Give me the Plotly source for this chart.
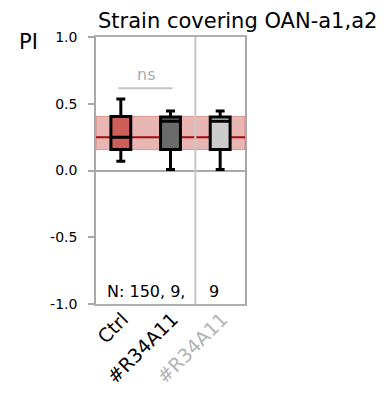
import plotly.graph_objects as go

categories = ["Ctrl", "#R34A11", "#R34A11"]
label_colors = ["#000000", "#000000", "#b4b4b4"]
fill_colors = ["#cd5f58", "#6b6b6b", "#cccccc"]
lower_whisker = [0.07, 0.007, 0.007]
q1 = [0.157, 0.157, 0.157]
median = [0.25, 0.368, 0.368]
q3 = [0.405, 0.40, 0.40]
upper_whisker = [0.535, 0.446, 0.446]
n_counts = [150, 9, 9]
y_tick_vals = [-1.0, -0.5, 0.0, 0.5, 1.0]
y_tick_text = ["-1.0", "-0.5", "0.0", "0.5", "1.0"]

FONT = "DejaVu Sans, sans-serif"
W, H = 386, 401
L, R, T, B = 96, 141, 37, 97
PW, PH = W - L - R, H - T - B


def px_x(p):
    return (p - L) / PW


def px_y(p):
    return 1 - (p - T) / PH


xs = list(range(len(categories)))

fig = go.Figure()
for i in xs:
    fig.add_trace(go.Box(
        x=[i], q1=[q1[i]], median=[median[i]], q3=[q3[i]],
        lowerfence=[lower_whisker[i]], upperfence=[upper_whisker[i]],
        fillcolor=fill_colors[i], line=dict(color="black", width=3),
        width=0.4, whiskerwidth=0.45, boxpoints=False, showlegend=False,
        hoverinfo="skip",
    ))

# control IQR band + median line
fig.add_shape(type="rect", xref="paper", x0=0, x1=1, yref="y", y0=q1[0], y1=q3[0],
              fillcolor="rgba(205,95,88,0.45)", line=dict(color="rgba(205,95,88,0.55)", width=1),
              layer="below")
fig.add_shape(type="line", xref="paper", x0=0, x1=1, yref="y", y0=median[0], y1=median[0],
              line=dict(color="#a50d0d", width=2), layer="below")
# separator between groups
fig.add_shape(type="line", xref="x", x0=1.5, x1=1.5, yref="paper", y0=0, y1=1,
              line=dict(color="#c8c8c8", width=2), layer="above")
# ns bracket
fig.add_shape(type="line", xref="x", x0=-0.05, x1=1.04, yref="y", y0=0.617, y1=0.617,
              line=dict(color="#c4c4c4", width=2))
fig.add_annotation(x=0.5, y=0.72, xref="x", yref="y", text="ns", showarrow=False,
                   xanchor="center", yanchor="middle",
                   font=dict(family=FONT, size=16, color="#ababab"))

# N labels
fig.add_annotation(x=0.5, y=-0.91, xref="x", yref="y",
                   text="N: %d, %d," % (n_counts[0], n_counts[1]), showarrow=False,
                   xanchor="center", yanchor="middle",
                   font=dict(family=FONT, size=16, color="black"))
fig.add_annotation(x=2, y=-0.91, xref="x", yref="y", xshift=-6,
                   text="%d" % n_counts[2], showarrow=False,
                   xanchor="center", yanchor="middle",
                   font=dict(family=FONT, size=16, color="black"))

# title & PI
fig.add_annotation(xref="paper", yref="paper", x=px_x(237), y=px_y(21),
                   xanchor="center", yanchor="middle",
                   text="Strain covering OAN-a1,a2", showarrow=False,
                   font=dict(family=FONT, size=21, color="black"))
fig.add_annotation(xref="paper", yref="paper", x=px_x(28), y=px_y(42),
                   xanchor="center", yanchor="middle",
                   text="PI", showarrow=False, font=dict(family=FONT, size=21, color="black"))

fig.update_layout(
    width=W, height=H,
    margin=dict(l=L, r=R, t=T, b=B),
    paper_bgcolor="white", plot_bgcolor="white",
    font=dict(family=FONT, color="black"),
)
fig.update_xaxes(
    range=[-0.5, 2.5], tickmode="array", tickvals=xs,
    ticktext=['<span style="color:%s">%s</span>' % (label_colors[i], categories[i]) for i in xs],
    tickangle=-45, tickfont=dict(family=FONT, size=19), showgrid=False, zeroline=False,
    showline=True, linecolor="#b0b0b0", linewidth=1.5, mirror=True, ticks="",
    ticklabelshift=2, ticklabelstandoff=-5, automargin=False,
)
fig.update_yaxes(
    range=[-1, 1], tickmode="array", tickvals=y_tick_vals, ticktext=y_tick_text,
    tickfont=dict(family=FONT, size=14), showgrid=False,
    zeroline=True, zerolinecolor="#a8a8a8", zerolinewidth=1.5,
    showline=True, linecolor="#a8a8a8", linewidth=1.5, mirror=True,
    ticks="outside", ticklen=6, tickcolor="#a8a8a8", tickwidth=1.5,
    ticklabelstandoff=8, automargin=False,
)

fig.write_html("out.html")
